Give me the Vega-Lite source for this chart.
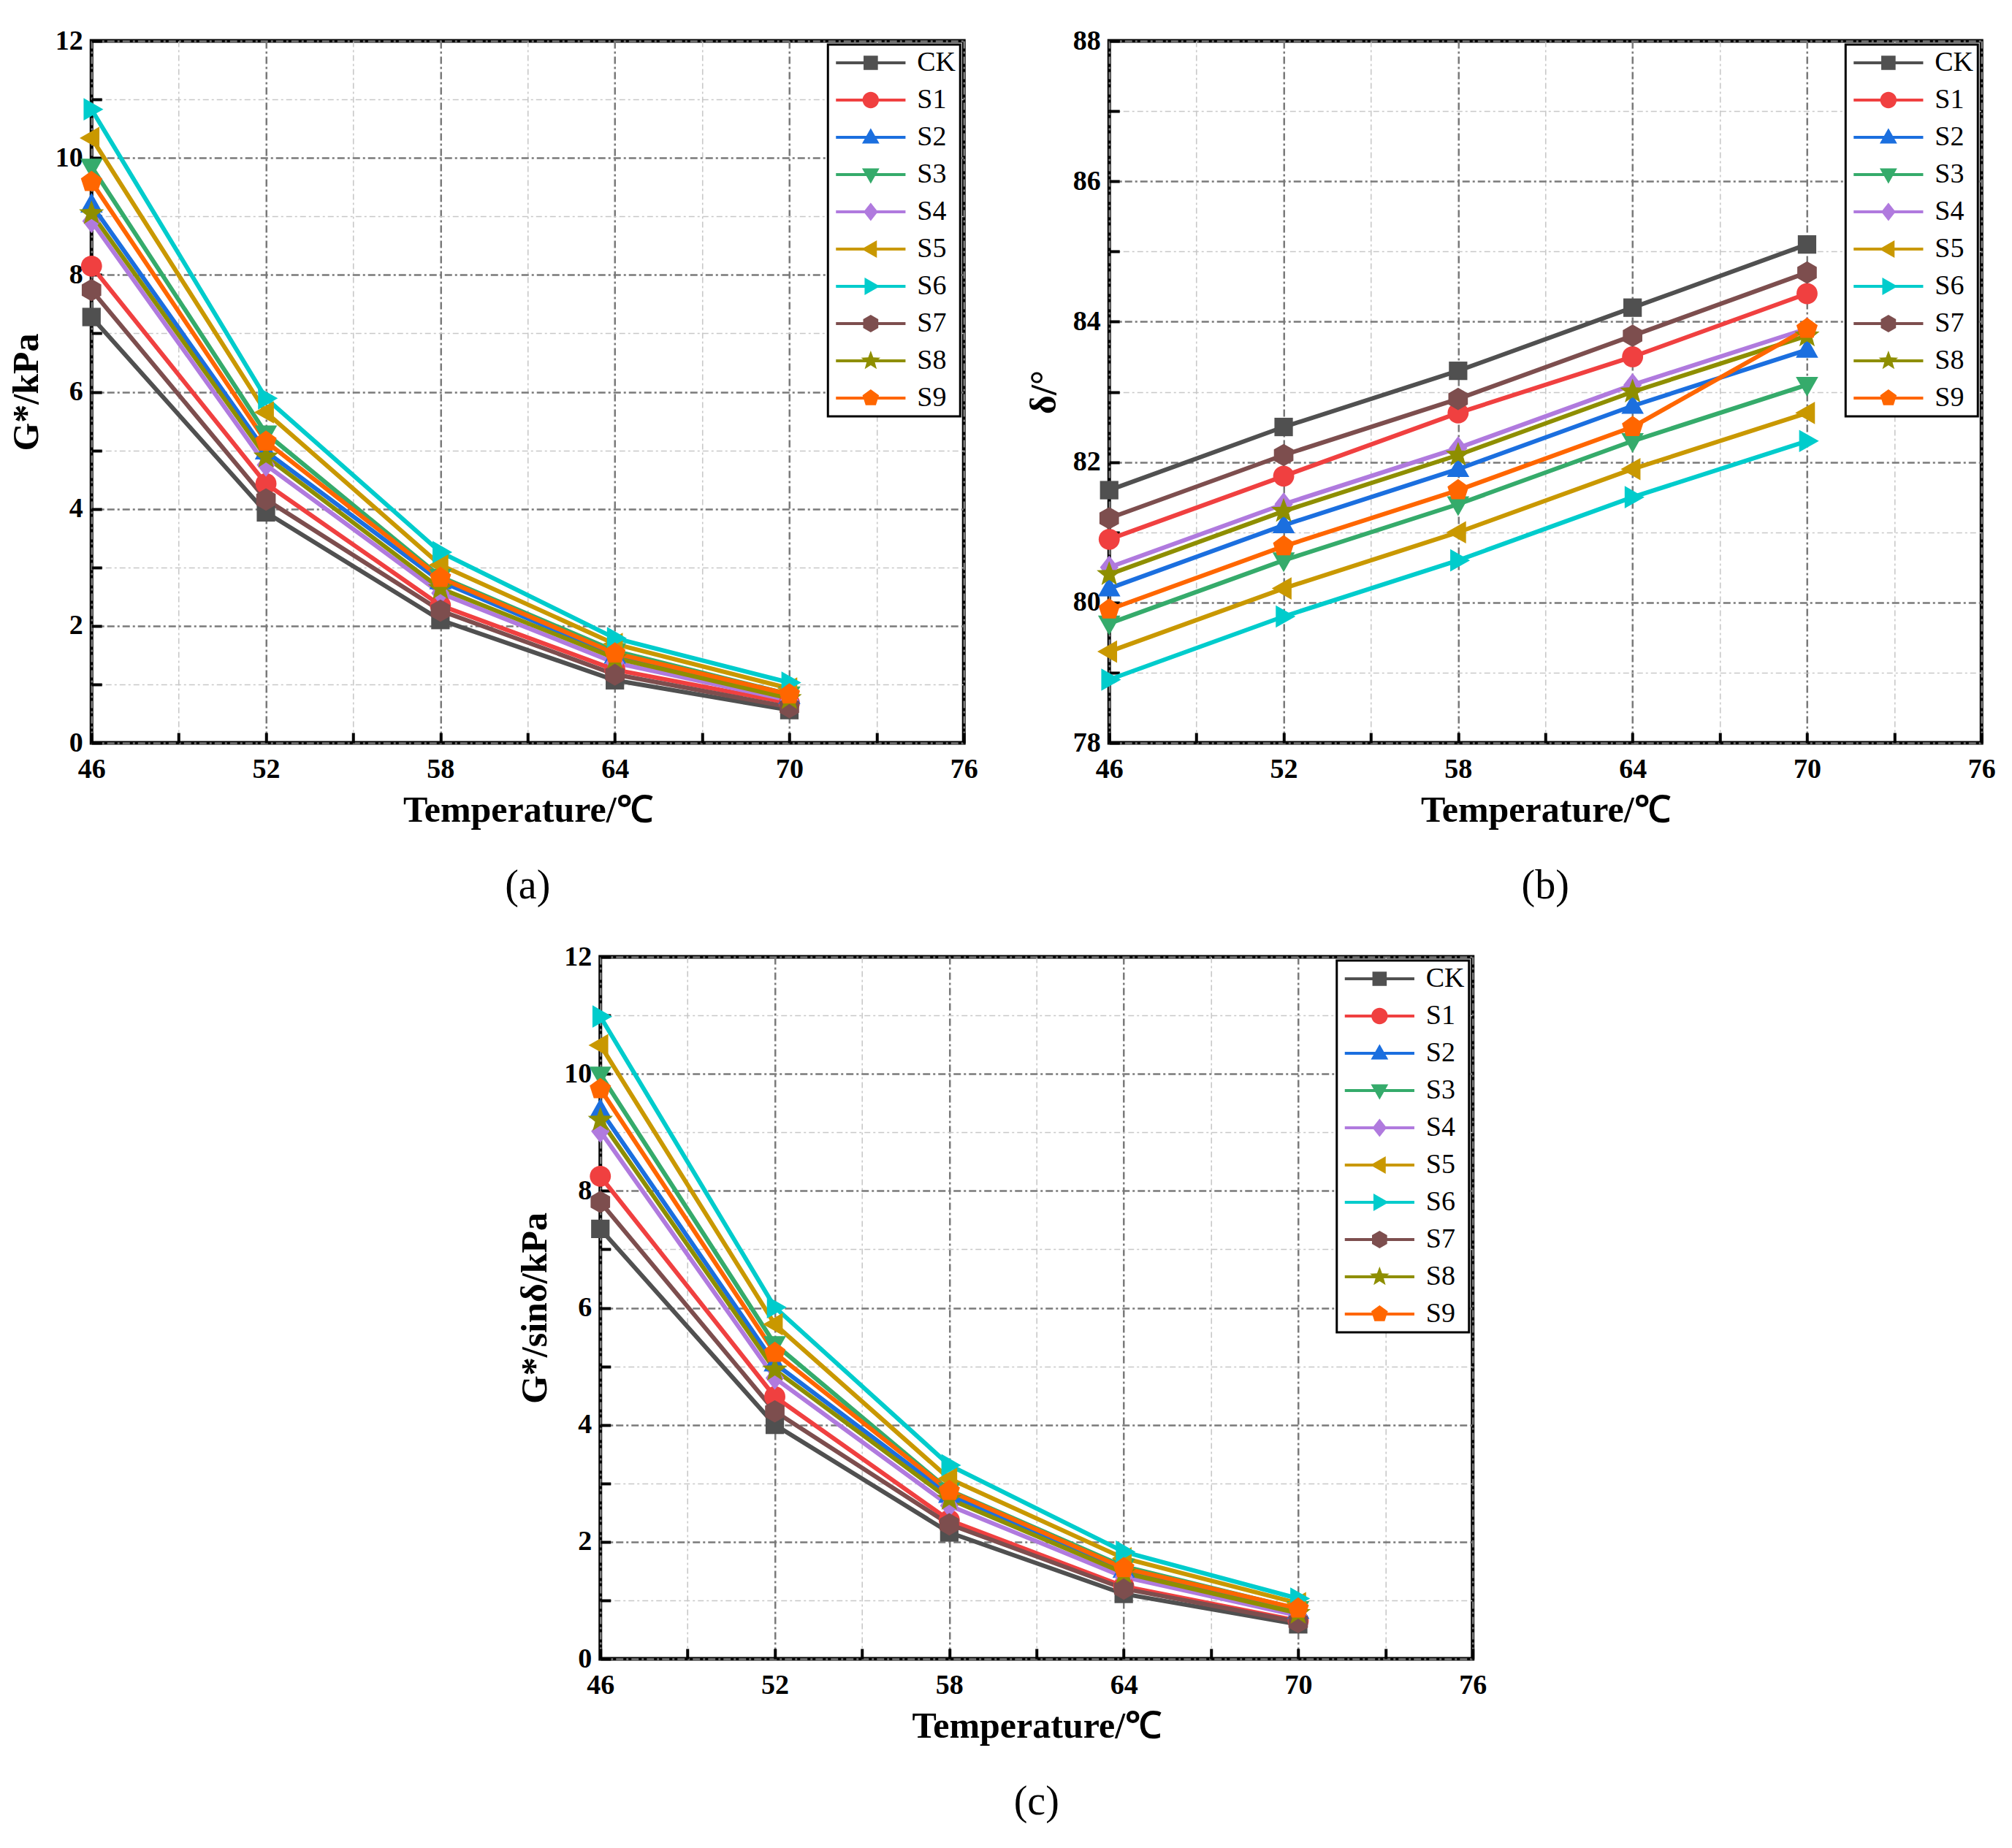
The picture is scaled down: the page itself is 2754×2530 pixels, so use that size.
{
  "$schema": "https://vega.github.io/schema/vega-lite/v6.json",
  "background": "white",
  "padding": {"left": 8, "top": 34, "right": 20, "bottom": 20},
  "config": {
    "font": "Liberation Serif",
    "view": {"stroke": "black", "strokeWidth": 5},
    "axis": {
      "labelFont": "Liberation Serif", "labelFontSize": 38, "labelFontWeight": "bold", "labelColor": "black",
      "titleFont": "Liberation Serif", "titleFontSize": 50, "titleFontWeight": "bold", "titleColor": "black",
      "domain": false, "grid": true, "ticks": true, "tickColor": "black", "tickWidth": 4, "tickSize": -14,
      "labelFlush": false, "labelOverlap": false, "labelBound": false
    },
    "title": {"font": "Liberation Serif", "fontSize": 56, "fontWeight": "normal", "color": "black", "orient": "bottom", "anchor": "middle", "offset": 52},
    "legend": {
      "title": null, "orient": "top-right", "offset": 5, "padding": 6,
      "strokeColor": "black", "strokeWidth": 3, "fillColor": "white",
      "symbolSize": 784, "symbolStrokeWidth": 0, "symbolOpacity": 1,
      "labelFont": "Liberation Serif", "labelFontSize": 38, "labelColor": "black", "labelOffset": 78, "rowPadding": 13
    }
  },
  "datasets": {
    "g": [
      {"series": "CK", "T": 46, "v": 7.28}, {"series": "CK", "T": 52, "v": 3.94}, {"series": "CK", "T": 58, "v": 2.10}, {"series": "CK", "T": 64, "v": 1.07}, {"series": "CK", "T": 70, "v": 0.56},
      {"series": "S1", "T": 46, "v": 8.15}, {"series": "S1", "T": 52, "v": 4.43}, {"series": "S1", "T": 58, "v": 2.35}, {"series": "S1", "T": 64, "v": 1.25}, {"series": "S1", "T": 70, "v": 0.68},
      {"series": "S2", "T": 46, "v": 9.20}, {"series": "S2", "T": 52, "v": 4.98}, {"series": "S2", "T": 58, "v": 2.76}, {"series": "S2", "T": 64, "v": 1.49}, {"series": "S2", "T": 70, "v": 0.80},
      {"series": "S3", "T": 46, "v": 9.85}, {"series": "S3", "T": 52, "v": 5.29}, {"series": "S3", "T": 58, "v": 2.84}, {"series": "S3", "T": 64, "v": 1.57}, {"series": "S3", "T": 70, "v": 0.83},
      {"series": "S4", "T": 46, "v": 8.92}, {"series": "S4", "T": 52, "v": 4.75}, {"series": "S4", "T": 58, "v": 2.56}, {"series": "S4", "T": 64, "v": 1.37}, {"series": "S4", "T": 70, "v": 0.73},
      {"series": "S5", "T": 46, "v": 10.34}, {"series": "S5", "T": 52, "v": 5.65}, {"series": "S5", "T": 58, "v": 3.04}, {"series": "S5", "T": 64, "v": 1.69}, {"series": "S5", "T": 70, "v": 0.93},
      {"series": "S6", "T": 46, "v": 10.83}, {"series": "S6", "T": 52, "v": 5.89}, {"series": "S6", "T": 58, "v": 3.26}, {"series": "S6", "T": 64, "v": 1.79}, {"series": "S6", "T": 70, "v": 1.03},
      {"series": "S7", "T": 46, "v": 7.74}, {"series": "S7", "T": 52, "v": 4.16}, {"series": "S7", "T": 58, "v": 2.26}, {"series": "S7", "T": 64, "v": 1.17}, {"series": "S7", "T": 70, "v": 0.61},
      {"series": "S8", "T": 46, "v": 9.05}, {"series": "S8", "T": 52, "v": 4.89}, {"series": "S8", "T": 58, "v": 2.64}, {"series": "S8", "T": 64, "v": 1.45}, {"series": "S8", "T": 70, "v": 0.76},
      {"series": "S9", "T": 46, "v": 9.59}, {"series": "S9", "T": 52, "v": 5.15}, {"series": "S9", "T": 58, "v": 2.82}, {"series": "S9", "T": 64, "v": 1.53}, {"series": "S9", "T": 70, "v": 0.83}
    ],
    "d": [
      {"series": "CK", "T": 46, "v": 81.6}, {"series": "CK", "T": 52, "v": 82.5}, {"series": "CK", "T": 58, "v": 83.3}, {"series": "CK", "T": 64, "v": 84.2}, {"series": "CK", "T": 70, "v": 85.1},
      {"series": "S1", "T": 46, "v": 80.9}, {"series": "S1", "T": 52, "v": 81.8}, {"series": "S1", "T": 58, "v": 82.7}, {"series": "S1", "T": 64, "v": 83.5}, {"series": "S1", "T": 70, "v": 84.4},
      {"series": "S2", "T": 46, "v": 80.2}, {"series": "S2", "T": 52, "v": 81.1}, {"series": "S2", "T": 58, "v": 81.9}, {"series": "S2", "T": 64, "v": 82.8}, {"series": "S2", "T": 70, "v": 83.6},
      {"series": "S3", "T": 46, "v": 79.7}, {"series": "S3", "T": 52, "v": 80.6}, {"series": "S3", "T": 58, "v": 81.4}, {"series": "S3", "T": 64, "v": 82.3}, {"series": "S3", "T": 70, "v": 83.1},
      {"series": "S4", "T": 46, "v": 80.5}, {"series": "S4", "T": 52, "v": 81.4}, {"series": "S4", "T": 58, "v": 82.2}, {"series": "S4", "T": 64, "v": 83.1}, {"series": "S4", "T": 70, "v": 83.9},
      {"series": "S5", "T": 46, "v": 79.3}, {"series": "S5", "T": 52, "v": 80.2}, {"series": "S5", "T": 58, "v": 81.0}, {"series": "S5", "T": 64, "v": 81.9}, {"series": "S5", "T": 70, "v": 82.7},
      {"series": "S6", "T": 46, "v": 78.9}, {"series": "S6", "T": 52, "v": 79.8}, {"series": "S6", "T": 58, "v": 80.6}, {"series": "S6", "T": 64, "v": 81.5}, {"series": "S6", "T": 70, "v": 82.3},
      {"series": "S7", "T": 46, "v": 81.2}, {"series": "S7", "T": 52, "v": 82.1}, {"series": "S7", "T": 58, "v": 82.9}, {"series": "S7", "T": 64, "v": 83.8}, {"series": "S7", "T": 70, "v": 84.7},
      {"series": "S8", "T": 46, "v": 80.4}, {"series": "S8", "T": 52, "v": 81.3}, {"series": "S8", "T": 58, "v": 82.1}, {"series": "S8", "T": 64, "v": 83.0}, {"series": "S8", "T": 70, "v": 83.8},
      {"series": "S9", "T": 46, "v": 79.9}, {"series": "S9", "T": 52, "v": 80.8}, {"series": "S9", "T": 58, "v": 81.6}, {"series": "S9", "T": 64, "v": 82.5}, {"series": "S9", "T": 70, "v": 83.9}
    ],
    "gs": [
      {"series": "CK", "T": 46, "v": 7.35}, {"series": "CK", "T": 52, "v": 4.00}, {"series": "CK", "T": 58, "v": 2.16}, {"series": "CK", "T": 64, "v": 1.11}, {"series": "CK", "T": 70, "v": 0.59},
      {"series": "S1", "T": 46, "v": 8.25}, {"series": "S1", "T": 52, "v": 4.48}, {"series": "S1", "T": 58, "v": 2.37}, {"series": "S1", "T": 64, "v": 1.24}, {"series": "S1", "T": 70, "v": 0.65},
      {"series": "S2", "T": 46, "v": 9.38}, {"series": "S2", "T": 52, "v": 5.05}, {"series": "S2", "T": 58, "v": 2.80}, {"series": "S2", "T": 64, "v": 1.52}, {"series": "S2", "T": 70, "v": 0.82},
      {"series": "S3", "T": 46, "v": 9.99}, {"series": "S3", "T": 52, "v": 5.38}, {"series": "S3", "T": 58, "v": 2.88}, {"series": "S3", "T": 64, "v": 1.58}, {"series": "S3", "T": 70, "v": 0.85},
      {"series": "S4", "T": 46, "v": 9.02}, {"series": "S4", "T": 52, "v": 4.80}, {"series": "S4", "T": 58, "v": 2.62}, {"series": "S4", "T": 64, "v": 1.40}, {"series": "S4", "T": 70, "v": 0.74},
      {"series": "S5", "T": 46, "v": 10.49}, {"series": "S5", "T": 52, "v": 5.72}, {"series": "S5", "T": 58, "v": 3.08}, {"series": "S5", "T": 64, "v": 1.72}, {"series": "S5", "T": 70, "v": 0.95},
      {"series": "S6", "T": 46, "v": 10.98}, {"series": "S6", "T": 52, "v": 6.01}, {"series": "S6", "T": 58, "v": 3.31}, {"series": "S6", "T": 64, "v": 1.83}, {"series": "S6", "T": 70, "v": 1.03},
      {"series": "S7", "T": 46, "v": 7.81}, {"series": "S7", "T": 52, "v": 4.23}, {"series": "S7", "T": 58, "v": 2.30}, {"series": "S7", "T": 64, "v": 1.20}, {"series": "S7", "T": 70, "v": 0.63},
      {"series": "S8", "T": 46, "v": 9.21}, {"series": "S8", "T": 52, "v": 4.94}, {"series": "S8", "T": 58, "v": 2.73}, {"series": "S8", "T": 64, "v": 1.47}, {"series": "S8", "T": 70, "v": 0.78},
      {"series": "S9", "T": 46, "v": 9.74}, {"series": "S9", "T": 52, "v": 5.23}, {"series": "S9", "T": 58, "v": 2.87}, {"series": "S9", "T": 64, "v": 1.55}, {"series": "S9", "T": 70, "v": 0.86}
    ]
  },
  "resolve": {"scale": {"color": "independent", "fill": "independent", "shape": "independent"}, "legend": {"color": "independent", "fill": "independent", "shape": "independent"}},
  "center": true,
  "spacing": 44,
  "vconcat": [
    {
      "hconcat": [
        {
          "width": 1194, "height": 961,
          "data": {"name": "g"},
          "title": {"text": "(a)"},
          "encoding": {
            "x": {"field": "T", "type": "quantitative", "scale": {"domain": [46, 76], "nice": false, "zero": false},
              "axis": {"title": "Temperature/℃", "values": [46, 49, 52, 55, 58, 61, 64, 67, 70, 73, 76], "labelExpr": "datum.value % 6 == 4 ? datum.label : ''", "labelPadding": 31, "titlePadding": 12,
                "gridColor": {"condition": {"test": "datum.value % 6 == 4", "value": "#7a7a7a"}, "value": "#c8c8c8"},
                "gridDash": {"condition": {"test": "datum.value % 6 == 4", "value": [10, 4, 3, 4]}, "value": [8, 4, 3, 4]},
                "gridWidth": {"condition": {"test": "datum.value % 6 == 4", "value": 2.5}, "value": 1.6}}},
            "y": {"field": "v", "type": "quantitative", "scale": {"domain": [0, 12], "nice": false},
              "axis": {"title": "G*/kPa", "values": [0, 1, 2, 3, 4, 5, 6, 7, 8, 9, 10, 11, 12], "labelExpr": "datum.value % 2 == 0 ? datum.label : ''", "labelPadding": 26, "titlePadding": 14,
                "gridColor": {"condition": {"test": "datum.value % 2 == 0", "value": "#7a7a7a"}, "value": "#c8c8c8"},
                "gridDash": {"condition": {"test": "datum.value % 2 == 0", "value": [10, 4, 3, 4]}, "value": [8, 4, 3, 4]},
                "gridWidth": {"condition": {"test": "datum.value % 2 == 0", "value": 2.5}, "value": 1.6}}}
          },
          "layer": [
            {"mark": {"type": "line", "strokeWidth": 6},
              "encoding": {"color": {"field": "series", "type": "nominal",
                "scale": {"domain": ["CK", "S1", "S2", "S3", "S4", "S5", "S6", "S7", "S8", "S9"], "range": ["#505050", "#F04040", "#1B6FDF", "#35AB6B", "#B07ADE", "#C99800", "#00CCCC", "#7D4E4E", "#8E8E00", "#FF6600"]},
                "legend": {"encode": {"symbols": {"update": {
                  "shape": {"signal": "['M-1,-0.15H5.8V0.15H-1ZM1.7,-0.7H3.1V0.7H1.7Z','M-1,-0.15H5.8V0.15H-1ZM1.6,0A0.8,0.8 0 1,1 3.2,0A0.8,0.8 0 1,1 1.6,0Z','M-1,-0.15H5.8V0.15H-1ZM2.4,-0.9L3.25,0.6H1.55Z','M-1,-0.15H5.8V0.15H-1ZM2.4,0.9L1.55,-0.6H3.25Z','M-1,-0.15H5.8V0.15H-1ZM2.4,-0.9L3.1,0L2.4,0.9L1.7,0Z','M-1,-0.15H5.8V0.15H-1ZM1.5,0L3,-0.85V0.85Z','M-1,-0.15H5.8V0.15H-1ZM3.3,0L1.8,0.85V-0.85Z','M-1,-0.15H5.8V0.15H-1ZM2.4,-0.85L3.14,-0.425V0.425L2.4,0.85L1.66,0.425V-0.425Z','M-1,-0.15H5.8V0.15H-1ZM2.4,-1L2.647,-0.34L3.351,-0.309L2.799,0.13L2.988,0.809L2.4,0.42L1.812,0.809L2.001,0.13L1.449,-0.309L2.153,-0.34Z','M-1,-0.15H5.8V0.15H-1ZM2.4,-0.85L3.208,-0.263L2.9,0.688L1.9,0.688L1.592,-0.263Z'][indexof(['CK','S1','S2','S3','S4','S5','S6','S7','S8','S9'], datum.value)]"},
                  "fill": {"signal": "['#505050','#F04040','#1B6FDF','#35AB6B','#B07ADE','#C99800','#00CCCC','#7D4E4E','#8E8E00','#FF6600'][indexof(['CK','S1','S2','S3','S4','S5','S6','S7','S8','S9'], datum.value)]"},
                  "strokeWidth": {"value": 0}, "opacity": {"value": 1}, "fillOpacity": {"value": 1}}}}}}}},
            {"mark": {"type": "point", "filled": true, "opacity": 1, "size": 1300, "strokeWidth": 0},
              "encoding": {
                "fill": {"field": "series", "type": "nominal", "legend": null,
                  "scale": {"domain": ["S9", "S8", "S7", "S6", "S5", "S4", "S3", "S2", "S1", "CK"], "range": ["#FF6600", "#8E8E00", "#7D4E4E", "#00CCCC", "#C99800", "#B07ADE", "#35AB6B", "#1B6FDF", "#F04040", "#505050"]}},
                "shape": {"field": "series", "type": "nominal", "legend": null,
                  "scale": {"domain": ["S9", "S8", "S7", "S6", "S5", "S4", "S3", "S2", "S1", "CK"], "range": ["M0,-0.85L0.808,-0.263L0.5,0.688L-0.5,0.688L-0.808,-0.263Z", "M0,-1L0.247,-0.34L0.951,-0.309L0.399,0.13L0.588,0.809L0,0.42L-0.588,0.809L-0.399,0.13L-0.951,-0.309L-0.247,-0.34Z", "M0,-0.85L0.74,-0.425V0.425L0,0.85L-0.74,0.425V-0.425Z", "M0.9,0L-0.6,0.85V-0.85Z", "M-0.9,0L0.6,-0.85V0.85Z", "M0,-0.9L0.7,0L0,0.9L-0.7,0Z", "M0,0.9L-0.85,-0.6H0.85Z", "M0,-0.9L0.85,0.6H-0.85Z", "M-0.8,0A0.8,0.8 0 1,1 0.8,0A0.8,0.8 0 1,1 -0.8,0Z", "M-0.7,-0.7H0.7V0.7H-0.7Z"]}}
              }}
          ]
        },
        {
          "width": 1194, "height": 961,
          "data": {"name": "d"},
          "title": {"text": "(b)"},
          "encoding": {
            "x": {"field": "T", "type": "quantitative", "scale": {"domain": [46, 76], "nice": false, "zero": false},
              "axis": {"title": "Temperature/℃", "values": [46, 49, 52, 55, 58, 61, 64, 67, 70, 73, 76], "labelExpr": "datum.value % 6 == 4 ? datum.label : ''", "labelPadding": 31, "titlePadding": 12,
                "gridColor": {"condition": {"test": "datum.value % 6 == 4", "value": "#7a7a7a"}, "value": "#c8c8c8"},
                "gridDash": {"condition": {"test": "datum.value % 6 == 4", "value": [10, 4, 3, 4]}, "value": [8, 4, 3, 4]},
                "gridWidth": {"condition": {"test": "datum.value % 6 == 4", "value": 2.5}, "value": 1.6}}},
            "y": {"field": "v", "type": "quantitative", "scale": {"domain": [78, 88], "nice": false, "zero": false},
              "axis": {"title": "δ/°", "values": [78, 79, 80, 81, 82, 83, 84, 85, 86, 87, 88], "labelExpr": "datum.value % 2 == 0 ? datum.label : ''", "labelPadding": 26, "titlePadding": 14,
                "gridColor": {"condition": {"test": "datum.value % 2 == 0", "value": "#7a7a7a"}, "value": "#c8c8c8"},
                "gridDash": {"condition": {"test": "datum.value % 2 == 0", "value": [10, 4, 3, 4]}, "value": [8, 4, 3, 4]},
                "gridWidth": {"condition": {"test": "datum.value % 2 == 0", "value": 2.5}, "value": 1.6}}}
          },
          "layer": [
            {"mark": {"type": "line", "strokeWidth": 6},
              "encoding": {"color": {"field": "series", "type": "nominal",
                "scale": {"domain": ["CK", "S1", "S2", "S3", "S4", "S5", "S6", "S7", "S8", "S9"], "range": ["#505050", "#F04040", "#1B6FDF", "#35AB6B", "#B07ADE", "#C99800", "#00CCCC", "#7D4E4E", "#8E8E00", "#FF6600"]},
                "legend": {"encode": {"symbols": {"update": {
                  "shape": {"signal": "['M-1,-0.15H5.8V0.15H-1ZM1.7,-0.7H3.1V0.7H1.7Z','M-1,-0.15H5.8V0.15H-1ZM1.6,0A0.8,0.8 0 1,1 3.2,0A0.8,0.8 0 1,1 1.6,0Z','M-1,-0.15H5.8V0.15H-1ZM2.4,-0.9L3.25,0.6H1.55Z','M-1,-0.15H5.8V0.15H-1ZM2.4,0.9L1.55,-0.6H3.25Z','M-1,-0.15H5.8V0.15H-1ZM2.4,-0.9L3.1,0L2.4,0.9L1.7,0Z','M-1,-0.15H5.8V0.15H-1ZM1.5,0L3,-0.85V0.85Z','M-1,-0.15H5.8V0.15H-1ZM3.3,0L1.8,0.85V-0.85Z','M-1,-0.15H5.8V0.15H-1ZM2.4,-0.85L3.14,-0.425V0.425L2.4,0.85L1.66,0.425V-0.425Z','M-1,-0.15H5.8V0.15H-1ZM2.4,-1L2.647,-0.34L3.351,-0.309L2.799,0.13L2.988,0.809L2.4,0.42L1.812,0.809L2.001,0.13L1.449,-0.309L2.153,-0.34Z','M-1,-0.15H5.8V0.15H-1ZM2.4,-0.85L3.208,-0.263L2.9,0.688L1.9,0.688L1.592,-0.263Z'][indexof(['CK','S1','S2','S3','S4','S5','S6','S7','S8','S9'], datum.value)]"},
                  "fill": {"signal": "['#505050','#F04040','#1B6FDF','#35AB6B','#B07ADE','#C99800','#00CCCC','#7D4E4E','#8E8E00','#FF6600'][indexof(['CK','S1','S2','S3','S4','S5','S6','S7','S8','S9'], datum.value)]"},
                  "strokeWidth": {"value": 0}, "opacity": {"value": 1}, "fillOpacity": {"value": 1}}}}}}}},
            {"mark": {"type": "point", "filled": true, "opacity": 1, "size": 1300, "strokeWidth": 0},
              "encoding": {
                "fill": {"field": "series", "type": "nominal", "legend": null,
                  "scale": {"domain": ["S9", "S8", "S7", "S6", "S5", "S4", "S3", "S2", "S1", "CK"], "range": ["#FF6600", "#8E8E00", "#7D4E4E", "#00CCCC", "#C99800", "#B07ADE", "#35AB6B", "#1B6FDF", "#F04040", "#505050"]}},
                "shape": {"field": "series", "type": "nominal", "legend": null,
                  "scale": {"domain": ["S9", "S8", "S7", "S6", "S5", "S4", "S3", "S2", "S1", "CK"], "range": ["M0,-0.85L0.808,-0.263L0.5,0.688L-0.5,0.688L-0.808,-0.263Z", "M0,-1L0.247,-0.34L0.951,-0.309L0.399,0.13L0.588,0.809L0,0.42L-0.588,0.809L-0.399,0.13L-0.951,-0.309L-0.247,-0.34Z", "M0,-0.85L0.74,-0.425V0.425L0,0.85L-0.74,0.425V-0.425Z", "M0.9,0L-0.6,0.85V-0.85Z", "M-0.9,0L0.6,-0.85V0.85Z", "M0,-0.9L0.7,0L0,0.9L-0.7,0Z", "M0,0.9L-0.85,-0.6H0.85Z", "M0,-0.9L0.85,0.6H-0.85Z", "M-0.8,0A0.8,0.8 0 1,1 0.8,0A0.8,0.8 0 1,1 -0.8,0Z", "M-0.7,-0.7H0.7V0.7H-0.7Z"]}}
              }}
          ]
        }
      ],
      "spacing": 60,
      "resolve": {"scale": {"color": "independent", "fill": "independent", "shape": "independent"}, "legend": {"color": "independent", "fill": "independent", "shape": "independent"}}
    },
    {
      "width": 1194, "height": 961,
      "data": {"name": "gs"},
      "title": {"text": "(c)"},
      "encoding": {
        "x": {"field": "T", "type": "quantitative", "scale": {"domain": [46, 76], "nice": false, "zero": false},
          "axis": {"title": "Temperature/℃", "values": [46, 49, 52, 55, 58, 61, 64, 67, 70, 73, 76], "labelExpr": "datum.value % 6 == 4 ? datum.label : ''", "labelPadding": 31, "titlePadding": 12,
            "gridColor": {"condition": {"test": "datum.value % 6 == 4", "value": "#7a7a7a"}, "value": "#c8c8c8"},
            "gridDash": {"condition": {"test": "datum.value % 6 == 4", "value": [10, 4, 3, 4]}, "value": [8, 4, 3, 4]},
            "gridWidth": {"condition": {"test": "datum.value % 6 == 4", "value": 2.5}, "value": 1.6}}},
        "y": {"field": "v", "type": "quantitative", "scale": {"domain": [0, 12], "nice": false},
          "axis": {"title": "G*/sinδ/kPa", "values": [0, 1, 2, 3, 4, 5, 6, 7, 8, 9, 10, 11, 12], "labelExpr": "datum.value % 2 == 0 ? datum.label : ''", "labelPadding": 26, "titlePadding": 14,
            "gridColor": {"condition": {"test": "datum.value % 2 == 0", "value": "#7a7a7a"}, "value": "#c8c8c8"},
            "gridDash": {"condition": {"test": "datum.value % 2 == 0", "value": [10, 4, 3, 4]}, "value": [8, 4, 3, 4]},
            "gridWidth": {"condition": {"test": "datum.value % 2 == 0", "value": 2.5}, "value": 1.6}}}
      },
      "layer": [
        {"mark": {"type": "line", "strokeWidth": 6},
          "encoding": {"color": {"field": "series", "type": "nominal",
            "scale": {"domain": ["CK", "S1", "S2", "S3", "S4", "S5", "S6", "S7", "S8", "S9"], "range": ["#505050", "#F04040", "#1B6FDF", "#35AB6B", "#B07ADE", "#C99800", "#00CCCC", "#7D4E4E", "#8E8E00", "#FF6600"]},
            "legend": {"encode": {"symbols": {"update": {
              "shape": {"signal": "['M-1,-0.15H5.8V0.15H-1ZM1.7,-0.7H3.1V0.7H1.7Z','M-1,-0.15H5.8V0.15H-1ZM1.6,0A0.8,0.8 0 1,1 3.2,0A0.8,0.8 0 1,1 1.6,0Z','M-1,-0.15H5.8V0.15H-1ZM2.4,-0.9L3.25,0.6H1.55Z','M-1,-0.15H5.8V0.15H-1ZM2.4,0.9L1.55,-0.6H3.25Z','M-1,-0.15H5.8V0.15H-1ZM2.4,-0.9L3.1,0L2.4,0.9L1.7,0Z','M-1,-0.15H5.8V0.15H-1ZM1.5,0L3,-0.85V0.85Z','M-1,-0.15H5.8V0.15H-1ZM3.3,0L1.8,0.85V-0.85Z','M-1,-0.15H5.8V0.15H-1ZM2.4,-0.85L3.14,-0.425V0.425L2.4,0.85L1.66,0.425V-0.425Z','M-1,-0.15H5.8V0.15H-1ZM2.4,-1L2.647,-0.34L3.351,-0.309L2.799,0.13L2.988,0.809L2.4,0.42L1.812,0.809L2.001,0.13L1.449,-0.309L2.153,-0.34Z','M-1,-0.15H5.8V0.15H-1ZM2.4,-0.85L3.208,-0.263L2.9,0.688L1.9,0.688L1.592,-0.263Z'][indexof(['CK','S1','S2','S3','S4','S5','S6','S7','S8','S9'], datum.value)]"},
              "fill": {"signal": "['#505050','#F04040','#1B6FDF','#35AB6B','#B07ADE','#C99800','#00CCCC','#7D4E4E','#8E8E00','#FF6600'][indexof(['CK','S1','S2','S3','S4','S5','S6','S7','S8','S9'], datum.value)]"},
              "strokeWidth": {"value": 0}, "opacity": {"value": 1}, "fillOpacity": {"value": 1}}}}}}}},
        {"mark": {"type": "point", "filled": true, "opacity": 1, "size": 1300, "strokeWidth": 0},
          "encoding": {
            "fill": {"field": "series", "type": "nominal", "legend": null,
              "scale": {"domain": ["S9", "S8", "S7", "S6", "S5", "S4", "S3", "S2", "S1", "CK"], "range": ["#FF6600", "#8E8E00", "#7D4E4E", "#00CCCC", "#C99800", "#B07ADE", "#35AB6B", "#1B6FDF", "#F04040", "#505050"]}},
            "shape": {"field": "series", "type": "nominal", "legend": null,
              "scale": {"domain": ["S9", "S8", "S7", "S6", "S5", "S4", "S3", "S2", "S1", "CK"], "range": ["M0,-0.85L0.808,-0.263L0.5,0.688L-0.5,0.688L-0.808,-0.263Z", "M0,-1L0.247,-0.34L0.951,-0.309L0.399,0.13L0.588,0.809L0,0.42L-0.588,0.809L-0.399,0.13L-0.951,-0.309L-0.247,-0.34Z", "M0,-0.85L0.74,-0.425V0.425L0,0.85L-0.74,0.425V-0.425Z", "M0.9,0L-0.6,0.85V-0.85Z", "M-0.9,0L0.6,-0.85V0.85Z", "M0,-0.9L0.7,0L0,0.9L-0.7,0Z", "M0,0.9L-0.85,-0.6H0.85Z", "M0,-0.9L0.85,0.6H-0.85Z", "M-0.8,0A0.8,0.8 0 1,1 0.8,0A0.8,0.8 0 1,1 -0.8,0Z", "M-0.7,-0.7H0.7V0.7H-0.7Z"]}}
          }}
      ]
    }
  ]
}
